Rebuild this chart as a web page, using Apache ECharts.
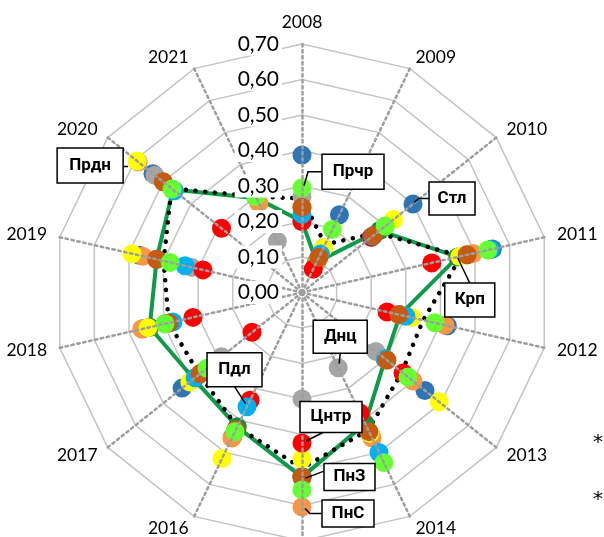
<!DOCTYPE html>
<html>
<head>
<meta charset="utf-8">
<script src="https://cdn.jsdelivr.net/npm/echarts@6/dist/echarts.min.js"></script>
<style>
  html, body { margin: 0; padding: 0; background: #fff; }
  #chart { width: 604px; height: 537px; }
</style>
</head>
<body>
<div id="chart"></div>
<script>
// Years around the web, clockwise from the top
const years = ['2008','2009','2010','2011','2012','2013','2014','2015','2016','2017','2018','2019','2020','2021'];
const tickValues = [0, 0.1, 0.2, 0.3, 0.4, 0.5, 0.6, 0.7];

// Regional values, one entry per year 2008..2021
const stl   = [0.387, 0.243, 0.400, 0.550, 0.420, 0.443, 0.445, 0.520, 0.450, 0.432, 0.460, 0.470, 0.537, 0.330];
const dnc   = [0.270, 0.140, 0.300, 0.477, 0.280, 0.266, 0.235, 0.300, 0.435, 0.290, 0.396, 0.318, 0.530, 0.160];
const pns   = [0.240, 0.100, 0.250, 0.494, 0.413, 0.400, 0.455, 0.604, 0.455, 0.360, 0.463, 0.460, 0.590, 0.280];
const prdn  = [0.235, 0.140, 0.330, 0.456, 0.318, 0.494, 0.440, 0.469, 0.519, 0.404, 0.445, 0.491, 0.594, 0.330];
const cntr  = [0.200, 0.073, 0.250, 0.375, 0.246, 0.364, 0.377, 0.424, 0.337, 0.180, 0.315, 0.286, 0.290, 0.330];
const pdl   = [0.220, 0.120, 0.255, 0.545, 0.300, 0.300, 0.500, 0.520, 0.357, 0.385, 0.373, 0.338, 0.460, 0.320];
const pnz   = [0.240, 0.110, 0.258, 0.477, 0.280, 0.306, 0.435, 0.520, 0.430, 0.367, 0.385, 0.420, 0.500, 0.320];
const prchr = [0.295, 0.197, 0.300, 0.537, 0.384, 0.382, 0.532, 0.556, 0.435, 0.342, 0.396, 0.381, 0.468, 0.300];
const krp   = [0.200, 0.095, 0.280, 0.450, 0.283, 0.300, 0.410, 0.520, 0.420, 0.390, 0.440, 0.420, 0.465, 0.295];
const mean  = [0.265, 0.150, 0.270, 0.460, 0.350, 0.360, 0.430, 0.495, 0.420, 0.370, 0.385, 0.400, 0.470, 0.300];

// ECharts lays indicators out counter-clockwise, so feed them reversed after the first
const order = [0].concat(years.map((_, i) => years.length - 1 - i).slice(0, years.length - 1));
const reorder = arr => order.map(i => arr[i]);

const indicators = order.map(i => ({ name: years[i], min: 0, max: 0.7 }));
const numFont = 'Lato, Roboto, sans-serif';
const boxFont = 'Roboto, "Noto Sans", sans-serif';

const radarBase = {
  center: [302, 292.5],
  radius: 248.5,
  startAngle: 90,
  splitNumber: tickValues.length - 1,
  shape: 'polygon'
};

const dotSeries = [
  { name: 'Стл',  values: stl,   color: '#2E75B6' },
  { name: 'Днц',  values: dnc,   color: '#A5A5A5' },
  { name: 'ПнС',  values: pns,   color: '#F79646' },
  { name: 'Прдн', values: prdn,  color: '#FFFF00' },
  { name: 'Цнтр', values: cntr,  color: '#FF0000' },
  { name: 'Пдл',  values: pdl,   color: '#00B0F0' },
  { name: 'ПнЗ',  values: pnz,   color: '#C55A11' },
  { name: 'Прчр', values: prchr, color: '#66FF33' }
];

const series = [
  {
    type: 'radar', radarIndex: 0, name: 'Крп', z: 2, silent: true,
    symbol: 'circle', symbolSize: 19,
    itemStyle: { color: '#1E8B43' },
    lineStyle: { color: '#0E9A48', width: 4 },
    data: [{ value: reorder(krp), name: 'Крп' }]
  },
  {
    type: 'radar', radarIndex: 0, name: 'mean', z: 2, silent: true,
    symbol: 'none',
    lineStyle: { color: '#000', width: 4.5, type: [0.1, 9.6], cap: 'round' },
    data: [{ value: reorder(mean), name: 'mean' }]
  }
].concat(dotSeries.map(s => ({
  type: 'radar', radarIndex: 0, name: s.name, z: 2, silent: true,
  symbol: 'circle', symbolSize: 19,
  itemStyle: { color: s.color },
  lineStyle: { width: 0, opacity: 0 },
  data: [{ value: reorder(s.values), name: s.name }]
})));

const option = {
  animation: false,
  backgroundColor: '#fff',
  radar: [
    Object.assign({}, radarBase, {
      z: 1,
      indicator: indicators,
      axisName: { show: true, color: '#000', fontSize: 17.5, fontFamily: numFont },
      axisNameGap: 13,
      splitLine: { lineStyle: { color: '#C4C4C4', width: 1.5 } },
      splitArea: { show: false },
      axisLine: { show: false },
      axisTick: { show: false },
      axisLabel: { show: false }
    }),
    Object.assign({}, radarBase, {
      z: 3,
      indicator: indicators.map((d, k) => k === 0 ? Object.assign({}, d, { axisLabel: { show: true } }) : d),
      axisName: { show: false },
      splitLine: { show: false },
      splitArea: { show: false },
      axisTick: { show: false },
      axisLine: { show: true, lineStyle: { color: '#9E9E9E', width: 2.5, type: [2.5, 3.5] } },
      axisLabel: {
        show: false, margin: 20, fontSize: 21, color: '#000', fontFamily: numFont,
        backgroundColor: '#fff', padding: [1, 3],
        formatter: v => Number(v).toFixed(2).replace('.', ',')
      }
    })
  ],
  series: series
};

const chart = echarts.init(document.getElementById('chart'), null, { renderer: 'canvas' });
chart.setOption(option);

// Name tags with leader lines, anchored at a region's marker for one year
const callouts = [
  { text: 'Прдн', values: prdn,  year: '2020', dx: -47,  dy: 4.5,  w: 66, h: 35, lead: [[33, 1], [38, 1], [-2, 1]] },
  { text: 'Прчр', values: prchr, year: '2008', dx: 51,   dy: -16,  w: 62, h: 35, lead: [[-31, 0], [-45, 0], [-49, 14]] },
  { text: 'Стл',  values: stl,   year: '2010', dx: 39,   dy: -5.5, w: 46, h: 33, lead: [[-23, 0], [-33, 0], [-38, 4]] },
  { text: 'Крп',  values: krp,   year: '2011', dx: 12,   dy: 43,   w: 50, h: 34, lead: [[0, -17], [-12, -42]] },
  { text: 'Днц',  values: dnc,   year: '2014', dx: 2,    dy: -31,  w: 54, h: 33, lead: [[0, 16.5], [-1, 27]] },
  { text: 'Цнтр', values: cntr,  year: '2015', dx: 29,   dy: -26,  w: 62, h: 31, lead: [[-8, 15.5], [-25, 24]] },
  { text: 'ПнЗ',  values: pnz,   year: '2015', dx: 47.5, dy: 0,    w: 51, h: 27, lead: [[-25.5, -6], [-44, 1]] },
  { text: 'ПнС',  values: pns,   year: '2015', dx: 46,   dy: 6.5,  w: 52, h: 27, lead: [[-26, 0], [-38, 0], [-43, -5]] },
  { text: 'Пдл',  values: pdl,   year: '2016', dx: -12.5, dy: -37, w: 55, h: 34, lead: [[0, 17], [11, 34]] }
];

const radarCS = chart.getModel().getComponent('radar', 0).coordinateSystem;
const graphics = [];
callouts.forEach(c => {
  const yi = years.indexOf(c.year);
  const k = order.indexOf(yi);
  const p = radarCS.dataToPoint(c.values[yi], k);
  const cx = p[0] + c.dx, cy = p[1] + c.dy;
  graphics.push({
    type: 'polyline', z: 20, silent: true,
    shape: { points: c.lead.map(q => [cx + q[0], cy + q[1]]) },
    style: { stroke: '#000', lineWidth: 1.5, fill: null }
  });
  graphics.push({
    type: 'rect', z: 21, silent: true,
    shape: { x: cx - c.w / 2, y: cy - c.h / 2, width: c.w, height: c.h },
    style: { fill: '#fff', stroke: '#000', lineWidth: 1.5 }
  });
  graphics.push({
    type: 'text', z: 22, silent: true,
    x: cx, y: cy,
    style: {
      text: c.text, fill: '#000', font: 'bold 17px ' + boxFont,
      textAlign: 'center', textVerticalAlign: 'middle'
    }
  });
});
['*', '*'].forEach((t, i) => {
  graphics.push({
    type: 'text', z: 22, silent: true,
    x: 598, y: 443 + i * 57,
    style: { text: t, fill: '#000', font: '20px "DejaVu Sans", sans-serif', textAlign: 'center', textVerticalAlign: 'middle' }
  });
});
chart.setOption({ graphic: graphics });
</script>
</body>
</html>
